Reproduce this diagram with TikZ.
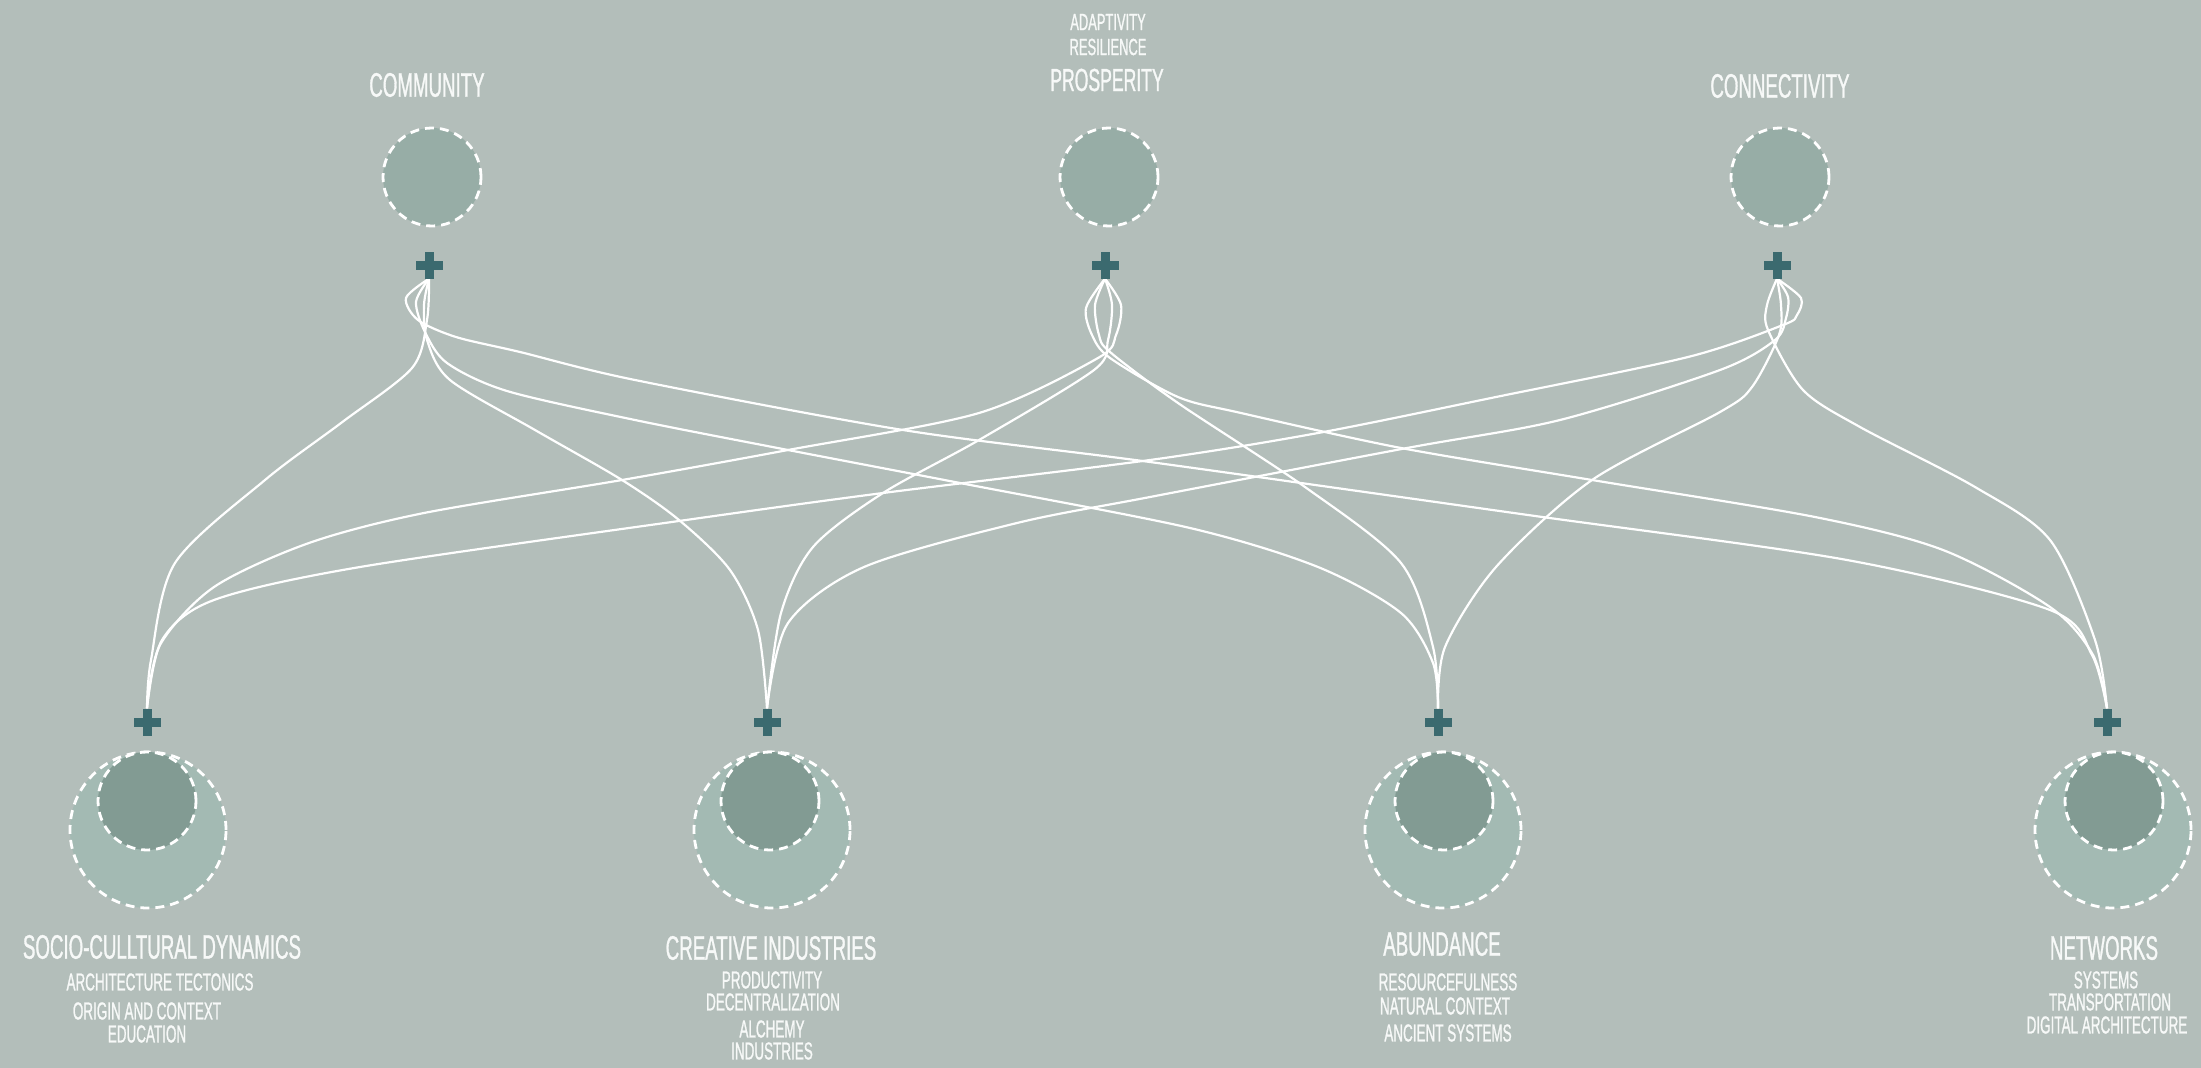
\documentclass[tikz,border=0pt]{standalone}
\usepackage{fontspec}
\setmainfont{Liberation Sans}[FakeStretch=0.55,FakeBold=0.9]
\definecolor{bgc}{HTML}{B3BEBA}
\definecolor{topc}{HTML}{97ADA6}
\definecolor{outc}{HTML}{A3BAB3}
\definecolor{inc}{HTML}{829B93}
\definecolor{plc}{HTML}{3B6A6F}
\definecolor{txc}{HTML}{F7F9F8}
\pgfdeclarelayer{back}
\pgfsetlayers{back,main}
\begin{document}
\begin{tikzpicture}[x=1pt,y=1pt,
 ring/.style={circle, inner sep=0pt, draw=white, line width=2.8pt, dash pattern=on 9pt off 6pt},
 topring/.style={ring, fill=topc, minimum size=98pt},
 outring/.style={ring, fill=outc, minimum size=156pt},
 inring/.style={ring, fill=inc, minimum size=98pt},
 vbar/.style={fill=plc, inner sep=0pt, minimum width=9pt, minimum height=27pt},
 hbar/.style={fill=plc, inner sep=0pt, minimum width=27pt, minimum height=9pt},
 ttl/.style={text=txc, inner sep=0pt, font=\fontsize{34}{34}\selectfont},
 subl/.style={text=txc, inner sep=0pt, font=\fontsize{24.5}{24.5}\selectfont},
 link/.style={draw=white, line width=2.2pt},
 sm/.style={smooth, tension=0.5}]
\begin{pgfonlayer}{back}
\fill[bgc] (0,0) rectangle (2201,-1068);
\end{pgfonlayer}
\useasboundingbox (0,0) rectangle (2201,-1068);

% top circles
\node[topring] (cc) at (432,-177) {};
\node[topring] (cp) at (1109,-177) {};
\node[topring] (cn) at (1780,-177) {};
% bottom circles
\node[outring] (o1) at (148,-830) {};
\node[inring]  (i1) at (147,-801) {};
\node[outring] (o2) at (772,-830) {};
\node[inring]  (i2) at (770,-801) {};
\node[outring] (o3) at (1443,-830) {};
\node[inring]  (i3) at (1444,-801) {};
\node[outring] (o4) at (2113,-830) {};
\node[inring]  (i4) at (2114,-801) {};

% plus signs
\node[hbar] (pch) at (429,-265) {};  \node[vbar] (pcv) at (429,-265) {};
\node[hbar] (pph) at (1105,-265) {}; \node[vbar] (ppv) at (1105,-265) {};
\node[hbar] (pnh) at (1777,-265) {}; \node[vbar] (pnv) at (1777,-265) {};
\node[hbar] (b1h) at (147,-722) {};  \node[vbar] (b1v) at (147,-722) {};
\node[hbar] (b2h) at (767,-722) {};  \node[vbar] (b2v) at (767,-722) {};
\node[hbar] (b3h) at (1438,-722) {}; \node[vbar] (b3v) at (1438,-722) {};
\node[hbar] (b4h) at (2107,-722) {}; \node[vbar] (b4v) at (2107,-722) {};

% labels
\node[ttl] (tc) at (427,-85) {COMMUNITY};
\node[subl, font=\fontsize{23.5}{23.5}\selectfont] (ta1) at (1108,-22) {ADAPTIVITY};
\node[subl, font=\fontsize{23.5}{23.5}\selectfont] (ta2) at (1108,-47) {RESILIENCE};
\node[ttl, font=\fontsize{32}{32}\selectfont] (tp) at (1107,-80) {PROSPERITY};
\node[ttl] (tn) at (1780,-86) {CONNECTIVITY};

\node[ttl] (l1) at (162,-947) {SOCIO-CULLTURAL DYNAMICS};
\node[subl] (l1a) at (160,-982) {ARCHITECTURE TECTONICS};
\node[subl] (l1b) at (147,-1011) {ORIGIN AND CONTEXT};
\node[subl] (l1c) at (147,-1034) {EDUCATION};

\node[ttl] (l2) at (771,-948) {CREATIVE INDUSTRIES};
\node[subl] (l2a) at (772,-980) {PRODUCTIVITY};
\node[subl] (l2b) at (773,-1002) {DECENTRALIZATION};
\node[subl] (l2c) at (772,-1029) {ALCHEMY};
\node[subl] (l2d) at (772,-1051) {INDUSTRIES};

\node[ttl] (l3) at (1442,-944) {ABUNDANCE};
\node[subl] (l3a) at (1448,-982) {RESOURCEFULNESS};
\node[subl] (l3b) at (1445,-1006) {NATURAL CONTEXT};
\node[subl] (l3c) at (1448,-1033) {ANCIENT SYSTEMS};

\node[ttl] (l4) at (2104,-948) {NETWORKS};
\node[subl] (l4a) at (2106,-980) {SYSTEMS};
\node[subl] (l4b) at (2110,-1002) {TRANSPORTATION};
\node[subl] (l4c) at (2107,-1025) {DIGITAL ARCHITECTURE};

\begin{pgfonlayer}{back}
% Community
\draw[link] plot[sm] coordinates {(pcv.south) (427,-320) (412,-368) (341,-423) (265,-480) (175,-563) (151,-660) (b1v.north)};
\draw[link] plot[sm] coordinates {(pcv.south) (424,-305) (427,-340) (450,-380) (535,-430) (622,-480) (679,-520) (730,-570) (758,-630) (b2v.north)};
\draw[link] plot[sm] coordinates {(pcv.south) (416,-302) (425,-332) (447,-363) (507,-391) (635,-420) (788,-450) (960,-483) (1190,-528) (1318,-567) (1401,-613) (1433,-663) (b3v.north)};
\draw[link] plot[sm] coordinates {(pcv.south) (406,-298) (418,-320) (456,-337) (520,-352) (635,-380) (903,-430) (1150,-462) (1528,-515) (1847,-560) (2050,-610) (2092,-655) (b4v.north)};
% Prosperity
\draw[link] plot[sm] coordinates {(ppv.south) (1121,-305) (1116,-335) (1098,-358) (979,-413) (788,-450) (622,-480) (424,-513) (309,-543) (214,-587) (160,-645) (b1v.north)};
\draw[link] plot[sm] coordinates {(ppv.south) (1112,-305) (1108,-340) (1094,-370) (979,-440) (883,-493) (813,-547) (781,-613) (b2v.north)};
\draw[link] plot[sm] coordinates {(ppv.south) (1095,-305) (1099,-335) (1110,-352) (1178,-403) (1305,-487) (1401,-563) (1433,-647) (b3v.north)};
\draw[link] plot[sm] coordinates {(ppv.south) (1086,-308) (1092,-335) (1110,-358) (1178,-397) (1241,-413) (1401,-448) (1592,-480) (1815,-517) (1943,-550) (2050,-607) (2093,-655) (b4v.north)};
% Connectivity
\draw[link] plot[sm] coordinates {(pnv.south) (1801,-298) (1797,-315) (1783,-325) (1688,-357) (1496,-397) (1318,-433) (1150,-460) (883,-493) (686,-520) (360,-567) (214,-600) (162,-640) (b1v.north)};
\draw[link] plot[sm] coordinates {(pnv.south) (1788,-297) (1786,-318) (1775,-340) (1720,-370) (1560,-420) (1407,-448) (1150,-497) (1017,-523) (864,-567) (788,-623) (b2v.north)};
\draw[link] plot[sm] coordinates {(pnv.south) (1781,-305) (1779,-335) (1752,-387) (1720,-412) (1592,-480) (1496,-567) (1445,-647) (b3v.north)};
\draw[link] plot[sm] coordinates {(pnv.south) (1767,-305) (1768,-330) (1803,-390) (1860,-427) (1975,-487) (2050,-540) (2095,-640) (b4v.north)};
\end{pgfonlayer}
\end{tikzpicture}
\end{document}
